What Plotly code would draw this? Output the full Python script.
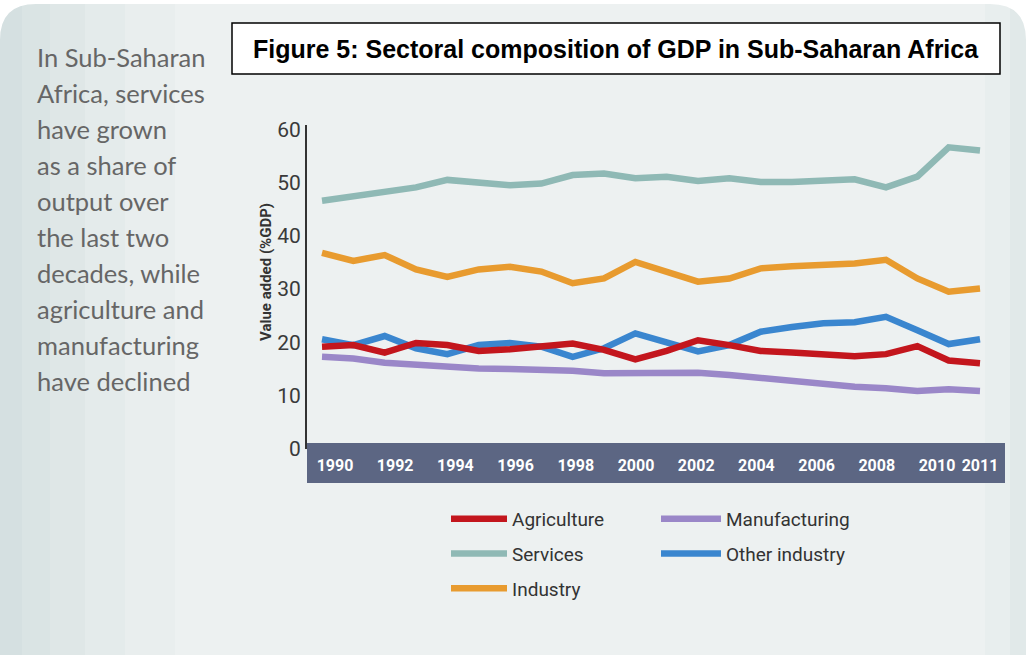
import plotly.graph_objects as go

# ---------------- data ----------------
years = list(range(1990, 2012))
agriculture = [19.2, 19.5, 18.1, 19.9, 19.5, 18.4, 18.7, 19.2, 19.8, 18.6, 16.8,
               18.4, 20.4, 19.5, 18.4, 18.1, 17.8, 17.4, 17.8, 19.3, 16.6, 16.1]
services = [46.6, 47.5, 48.1, 49.1, 50.5, 50.0, 49.5, 49.8, 51.4, 51.7, 50.8,
            51.1, 50.3, 50.8, 50.1, 50.1, 50.5, 50.6, 49.1, 51.1, 56.6, 56.0]
industry = [36.8, 35.3, 36.4, 33.7, 32.3, 33.7, 34.2, 33.3, 31.1, 32.0, 35.1,
            33.3, 31.4, 32.0, 33.9, 34.3, 34.5, 34.8, 35.5, 32.0, 29.5, 30.1]
manufacturing = [17.3, 17.0, 16.2, 15.8, 15.3, 15.1, 15.0, 15.0, 14.7, 14.2, 14.2,
                 14.3, 14.3, 13.9, 13.3, 12.6, 12.1, 11.7, 11.4, 10.9, 11.2, 10.9]
other_industry = [20.6, 19.5, 21.2, 18.9, 17.8, 19.5, 19.9, 19.2, 17.3, 18.9, 21.7,
                  19.9, 18.3, 19.5, 22.0, 22.9, 23.6, 23.8, 24.8, 22.3, 19.7, 20.6]

x_tick_labels = ["1990", "1992", "1994", "1996", "1998", "2000",
                 "2002", "2004", "2006", "2008", "2010"]
x_last_label = "2011"
y_ticks = [0, 10, 20, 30, 40, 50, 60]

title_text = "Figure 5: Sectoral composition of GDP in Sub-Saharan Africa"
y_title = "Value added (%GDP)"
side_lines = ["In Sub-Saharan", "Africa, services", "have grown", "as a share of",
              "output over", "the last two", "decades, while", "agriculture and",
              "manufacturing", "have declined"]

# ---------------- layout helpers ----------------
W, H = 1028, 655
L, R, T, B = 307, 23, 125, 206
PW, PH = W - L - R, H - T - B


def fx(px):
    return (px - L) / PW


def fy(py):
    return (H - B - py) / PH


NARROW = "Roboto, Liberation Sans Narrow, sans-serif"
LW = 6.5

series = [
    # name, values, color, legend, rank
    ("Services", services, "#8fb9b5", "legend", 2),
    ("Industry", industry, "#e89b2f", "legend", 3),
    ("Manufacturing", manufacturing, "#9a87c8", "legend2", 1),
    ("Other industry", other_industry, "#3a86cf", "legend2", 2),
    ("Agriculture", agriculture, "#c3161d", "legend", 1),
]

fig = go.Figure()
for name, vals, color, leg, rank in series:
    fig.add_trace(go.Scatter(
        x=years, y=vals, mode="lines", name=name,
        line=dict(color=color, width=LW),
        legend=leg, legendrank=rank, legendgroup=name,
    ))

# invisible trace carrying the secondary label axis
fig.add_trace(go.Scatter(x=[1990], y=[None], xaxis="x2", showlegend=False,
                         hoverinfo="skip"))

shapes = []
# panel background
shapes.append(dict(type="rect", xref="paper", yref="paper", layer="below",
                   x0=fx(0), x1=fx(1026), y0=fy(4), y1=fy(660),
                   fillcolor="#edf1f1", line=dict(width=0)))
for x0, x1, c in [(0, 22, "#d5e0e1"), (22, 50, "#dae4e4"), (50, 85, "#dfe7e7"),
                  (85, 125, "#e4ebeb"), (125, 175, "#e9eeee"),
                  (985, 1010, "#e8eeee"), (1010, 1026, "#e1e9e9")]:
    shapes.append(dict(type="rect", xref="paper", yref="paper", layer="below",
                       x0=fx(x0), x1=fx(x1), y0=fy(4), y1=fy(660),
                       fillcolor=c, line=dict(width=0)))
# rounded top corners (white masks)
r = 36
for cx, sx in [(0, 1), (1026, -1)]:
    path = (f"M {fx(cx - sx * 2)},{fy(2)} L {fx(cx + sx * r)},{fy(2)} L {fx(cx + sx * r)},{fy(4)} "
            f"Q {fx(cx)},{fy(4)} {fx(cx)},{fy(4 + r)} L {fx(cx - sx * 2)},{fy(4 + r)} Z")
    shapes.append(dict(type="path", xref="paper", yref="paper", layer="below",
                       path=path, fillcolor="white", line=dict(width=0)))
# x axis band
shapes.append(dict(type="rect", xref="paper", yref="paper", layer="below",
                   x0=0, x1=1, y0=fy(483), y1=fy(443),
                   fillcolor="#5c6683", line=dict(width=0)))
# title box
shapes.append(dict(type="rect", xref="paper", yref="paper", layer="below",
                   x0=fx(232), x1=fx(1000), y0=fy(74), y1=fy(23),
                   fillcolor="white", line=dict(color="black", width=1.5)))

annotations = [
    dict(text=f"<b>{title_text}</b>", xref="paper", yref="paper",
         x=fx(616), y=fy(49), showarrow=False, xanchor="center", yanchor="middle",
         font=dict(family="Liberation Sans, Arial, sans-serif", size=25, color="black")),
    dict(text=f"<b>{y_title}</b>", xref="paper", yref="paper", textangle=-90,
         x=fx(266), y=fy(272), showarrow=False, xanchor="center", yanchor="middle",
         font=dict(family=NARROW, size=15, color="#333333")),
]
for i, line in enumerate(side_lines):
    annotations.append(dict(text=line, xref="paper", yref="paper",
                            x=fx(35), y=fy(57 + 36 * i), showarrow=False,
                            xanchor="left", yanchor="middle",
                            font=dict(family="Lato, Noto Sans, sans-serif",
                                      size=25.5, color="#666666")))

tick_font = dict(family=NARROW, size=16, color="white", weight="bold")
legend_font = dict(family=NARROW, size=19, color="#333333")
fig.update_layout(
    width=W, height=H,
    margin=dict(l=L, r=R, t=T, b=B),
    paper_bgcolor="white", plot_bgcolor="rgba(0,0,0,0)",
    shapes=shapes, annotations=annotations,
    showlegend=True,
    xaxis=dict(range=[1989.521, 2011.798], showgrid=False, zeroline=False,
               showline=False, ticks="", tickmode="array",
               tickvals=[int(x_last_label)], ticktext=[x_last_label],
               tickangle=0, tickfont=tick_font, ticklabelstandoff=5),
    xaxis2=dict(range=[1989.070, 2012.259], overlaying="x", anchor="y", side="bottom",
                showgrid=False, zeroline=False, showline=False, ticks="",
                tickmode="array", tickvals=[int(t) for t in x_tick_labels],
                ticktext=x_tick_labels,
                tickangle=0, tickfont=tick_font, ticklabelstandoff=5),
    yaxis=dict(range=[0, 60.8], showgrid=False, zeroline=False,
               showline=True, linecolor="#333333", linewidth=2,
               ticks="", tickmode="array", tickvals=y_ticks,
               tickfont=dict(family=NARROW, size=21, color="#3a3a3a"),
               ticklabelstandoff=0),
    legend=dict(x=fx(446), y=fy(500), xanchor="left", yanchor="top",
                bgcolor="rgba(0,0,0,0)", itemwidth=56, tracegroupgap=7,
                font=legend_font),
    legend2=dict(x=fx(656), y=fy(500), xanchor="left", yanchor="top",
                 bgcolor="rgba(0,0,0,0)", itemwidth=60, tracegroupgap=7,
                 font=legend_font),
)

fig.write_html("out.html", config={"displayModeBar": False},
               post_script="document.body.style.margin='0px';")
